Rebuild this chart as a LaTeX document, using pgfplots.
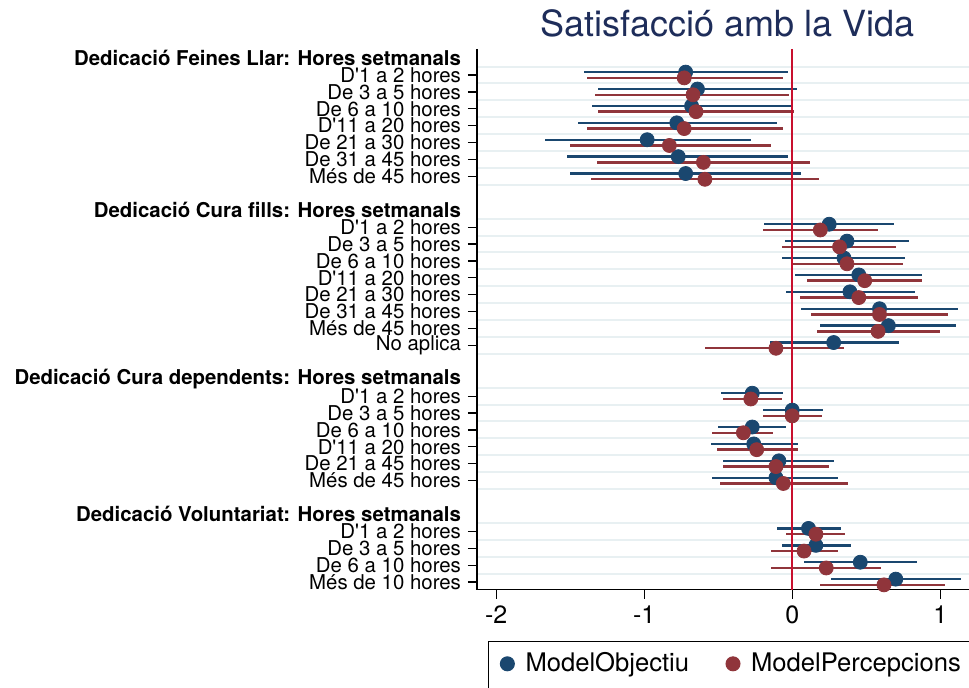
\documentclass[border=0pt]{standalone}
\usepackage{fontspec}
\setmainfont{TeX Gyre Heros}
\usepackage{pgfplots}
\usepackage{pgfplotstable}
\pgfplotsset{compat=1.18}

\definecolor{objcol}{RGB}{26,71,111}
\definecolor{percol}{RGB}{144,53,59}
\definecolor{zerocol}{RGB}{200,16,46}
\definecolor{gridcol}{RGB}{232,240,242}
\definecolor{titlecol}{RGB}{30,45,90}

% pos = row (from top), b = estimate, lo/hi = 95% CI
\pgfplotstableread{
pos b lo hi
2 -0.72 -1.41 -0.03
3 -0.64 -1.31 0.03
4 -0.68 -1.35 0.00
5 -0.78 -1.45 -0.10
6 -0.98 -1.67 -0.28
7 -0.77 -1.52 -0.03
8 -0.72 -1.50 0.06
11 0.25 -0.19 0.69
12 0.37 -0.05 0.79
13 0.35 -0.07 0.76
14 0.45 0.02 0.88
15 0.39 -0.04 0.83
16 0.59 0.06 1.12
17 0.65 0.19 1.11
18 0.28 -0.15 0.72
21 -0.27 -0.48 -0.06
22 0.00 -0.20 0.21
23 -0.27 -0.50 -0.04
24 -0.26 -0.55 0.04
25 -0.09 -0.47 0.28
26 -0.11 -0.54 0.31
29 0.11 -0.10 0.33
30 0.16 -0.07 0.40
31 0.46 0.08 0.84
32 0.70 0.26 1.14
}\objectiu

\pgfplotstableread{
pos b lo hi
2 -0.73 -1.39 -0.06
3 -0.67 -1.33 -0.02
4 -0.65 -1.31 0.01
5 -0.73 -1.39 -0.06
6 -0.83 -1.50 -0.14
7 -0.60 -1.32 0.12
8 -0.59 -1.36 0.18
11 0.19 -0.20 0.58
12 0.32 -0.07 0.70
13 0.37 0.00 0.75
14 0.49 0.10 0.88
15 0.45 0.05 0.85
16 0.59 0.13 1.05
17 0.58 0.17 1.00
18 -0.11 -0.59 0.35
21 -0.28 -0.47 -0.07
22 0.00 -0.20 0.20
23 -0.33 -0.54 -0.13
24 -0.24 -0.51 0.04
25 -0.11 -0.47 0.25
26 -0.06 -0.49 0.38
29 0.16 -0.04 0.36
30 0.08 -0.14 0.31
31 0.23 -0.14 0.60
32 0.62 0.19 1.03
}\percepcions

\begin{document}
\begin{tikzpicture}
\begin{axis}[
    scale only axis,
    width=246.4pt, height=270.4pt,
    at={(0,0)}, anchor=south west,
    xmin=-2.13, xmax=1.2,
    ymin=0.45, ymax=32.45,
    y dir=reverse,
    axis x line*=bottom, axis y line*=left,
    axis line style={line width=0.75pt},
    tick align=outside,
    major tick length=4.5pt,
    tick style={black, line width=0.6pt},
    xtick={-2,-1,0,1},
    xticklabels={-2,-1,0,1},
    xticklabel style={font=\fontsize{12.5}{14}\selectfont},
    ytick={2,3,4,5,6,7,8,11,12,13,14,15,16,17,18,21,22,23,24,25,26,29,30,31,32},
    yticklabels={
      {D\textquotesingle 1 a 2 hores},{De 3 a 5 hores},{De 6 a 10 hores},{D\textquotesingle 11 a 20 hores},
      {De 21 a 30 hores},{De 31 a 45 hores},{Més de 45 hores},
      {D\textquotesingle 1 a 2 hores},{De 3 a 5 hores},{De 6 a 10 hores},{D\textquotesingle 11 a 20 hores},
      {De 21 a 30 hores},{De 31 a 45 hores},{Més de 45 hores},{No aplica},
      {D\textquotesingle 1 a 2 hores},{De 3 a 5 hores},{De 6 a 10 hores},{D\textquotesingle 11 a 20 hores},
      {De 21 a 45 hores},{Més de 45 hores},
      {D\textquotesingle 1 a 2 hores},{De 3 a 5 hores},{De 6 a 10 hores},{Més de 10 hores}},
    yticklabel style={font=\fontsize{10.2}{11}\selectfont},
    extra y ticks={1,10,20,28},
    extra y tick labels={
      {\textbf{Dedicació Feines Llar: Hores setmanals}},
      {\textbf{Dedicació Cura fills: Hores setmanals}},
      {\textbf{Dedicació Cura dependents: Hores setmanals}},
      {\textbf{Dedicació Voluntariat: Hores setmanals}}},
    extra y tick style={tick style={draw=none}},
    minor ytick={1.5,2.5,3.5,4.5,5.5,6.5,7.5,8.5,10.5,11.5,12.5,13.5,14.5,15.5,16.5,17.5,18.5,20.5,21.5,22.5,23.5,24.5,25.5,26.5,28.5,29.5,30.5,31.5},
    minor tick length=0pt,
    yminorgrids=true,
    minor grid style={gridcol, line width=1pt},
    title={Satisfacció amb la Vida},
    title style={at={(axis description cs:0.5,1)}, anchor=base, yshift=0pt, xshift=2pt,
                 font=\fontsize{18}{20}\selectfont, text=titlecol},
    legend columns=2,
    legend style={at={(axis description cs:0.0223,-0.0955)}, anchor=north west,
                  draw=black, line width=0.5pt, font=\fontsize{12.8}{15}\selectfont,
                  inner sep=3.5pt,
                  /tikz/every even column/.append style={column sep=14pt}},
    legend image code/.code={\path (0,0) (0.44cm,0);
                             \draw[#1, mark=*, mark size=3.5pt] plot coordinates {(0.2cm,0cm)};},
  ]
  \addplot[only marks, mark=*, mark size=3.5pt, color=objcol,
           error bars/.cd, x dir=both, x explicit, error mark=none,
           error bar style={line width=1.2pt, objcol}]
    table[x=b, y expr=\thisrow{pos}-0.17,
          x error plus expr=\thisrow{hi}-\thisrow{b},
          x error minus expr=\thisrow{b}-\thisrow{lo}] {\objectiu};
  \addlegendentry{ModelObjectiu}
  \addplot[only marks, mark=*, mark size=3.5pt, color=percol,
           error bars/.cd, x dir=both, x explicit, error mark=none,
           error bar style={line width=1.2pt, percol}]
    table[x=b, y expr=\thisrow{pos}+0.17,
          x error plus expr=\thisrow{hi}-\thisrow{b},
          x error minus expr=\thisrow{b}-\thisrow{lo}] {\percepcions};
  \addlegendentry{ModelPercepcions}
  \draw[zerocol, line width=1pt] (axis cs:0,0.45) -- (axis cs:0,32.45);
\end{axis}
\pgfresetboundingbox
\useasboundingbox (-238.5pt,-49.2pt) rectangle (246pt,294.8pt);
\end{tikzpicture}
\end{document}
